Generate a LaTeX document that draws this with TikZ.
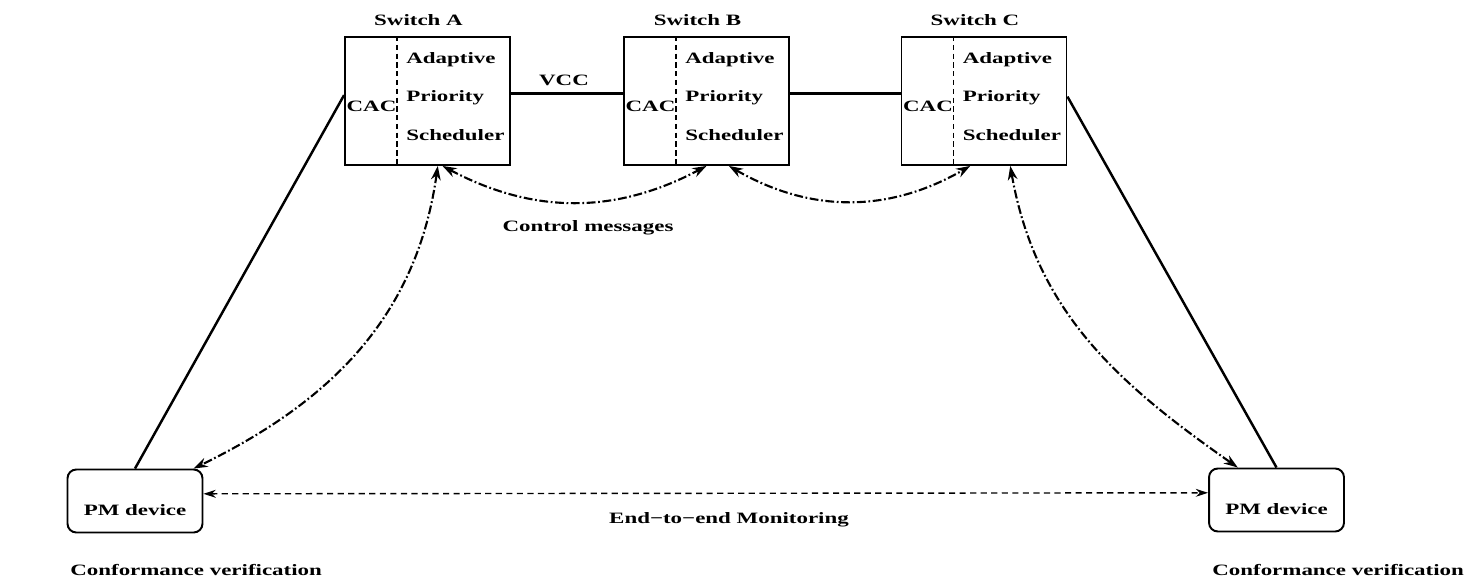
\documentclass[tikz,border=0pt]{standalone}
\usepackage{fontspec}
\setmainfont{Liberation Serif}
\usetikzlibrary{arrows.meta,calc}
\newcommand{\wide}[1]{\scalebox{1.45}[1]{#1}}
\tikzset{
  lbl/.style={font=\fontsize{9}{11}\selectfont\bfseries, inner sep=0pt},
  switchbox/.style={draw, line width=1.1pt, minimum width=3.3cm, minimum height=2.56cm, inner sep=0pt},
  pmbox/.style={lbl, draw, line width=1.1pt, rounded corners=5pt, minimum width=2.7cm, minimum height=1.26cm, text height=16pt, text depth=0pt},
  link/.style={line width=1.4pt},
  ctrl/.style={line width=1.2pt, dash pattern=on 5pt off 1.5pt on 1pt off 1.5pt, <->, >={Stealth[length=8pt,width=5.5pt]}},
  mon/.style={line width=0.8pt, dash pattern=on 3.5pt off 2.5pt, <->, >={Stealth[length=7pt,width=4.5pt]}}
}
\begin{document}
\begin{tikzpicture}[x=0.02cm, y=0.02cm]
            \useasboundingbox (0,0) rectangle (1476,585);
            \foreach \n/\x/\s in {swA/427.5/A, swB/706.5/B, swC/984/C}{
                \node[switchbox] (\n) at (\x,484) {};
                \draw[densely dashed, line width=0.8pt] ($(\n.north west)+(53,0)$) -- ($(\n.south west)+(53,0)$);
                \node[lbl] (\n-name) at (\x-9,565) {\wide{Switch \s}};
                \node[lbl] (\n-cac) at (\x-56,479) {\wide{CAC}};
                \node[lbl, anchor=west] (\n-ad) at (\x-21.5,525) {\wide{Adaptive}};
                \node[lbl, anchor=west] (\n-pr) at (\x-21.5,487) {\wide{Priority}};
                \node[lbl, anchor=west] (\n-sc) at (\x-21.5,450) {\wide{Scheduler}};
            }
            \node[pmbox] (pmL) at (135,84) {\wide{PM device}};
            \node[pmbox] (pmR) at (1276.5,85) {\wide{PM device}};
            \node[lbl, anchor=west] (confL) at (70,15) {\wide{Conformance verification}};
            \node[lbl, anchor=west] (confR) at (1212,15) {\wide{Conformance verification}};
            \node[lbl] (vcc) at (564,505) {\wide{VCC}};
            \node[lbl] (ctrlmsg) at (588,357) {\wide{Control messages}};
            \node[lbl] (e2e) at (729,65) {\wide{End−to−end Monitoring}};
            \draw[link] (pmL.north) -- (swA.176);
            \draw[link] (swA.5) -- (swB.175);
            \draw[link] (swB.5) -- (swC.175);
            \draw[link] (swC.3) -- (pmR.north);
            \draw[ctrl] (swA.283) to[out=-28,in=-152] (swB.south);
            \draw[ctrl] (swB.289) to[out=-30,in=-150] (swC.258);
            \draw[ctrl] (swA.279) to[out=-98,in=26] (pmL.29);
            \draw[ctrl] (swC.292) to[out=-80,in=145] (pmR.140);
            \draw[mon] (pmL.6) -- (pmR.174);
        \end{tikzpicture}
\end{document}
